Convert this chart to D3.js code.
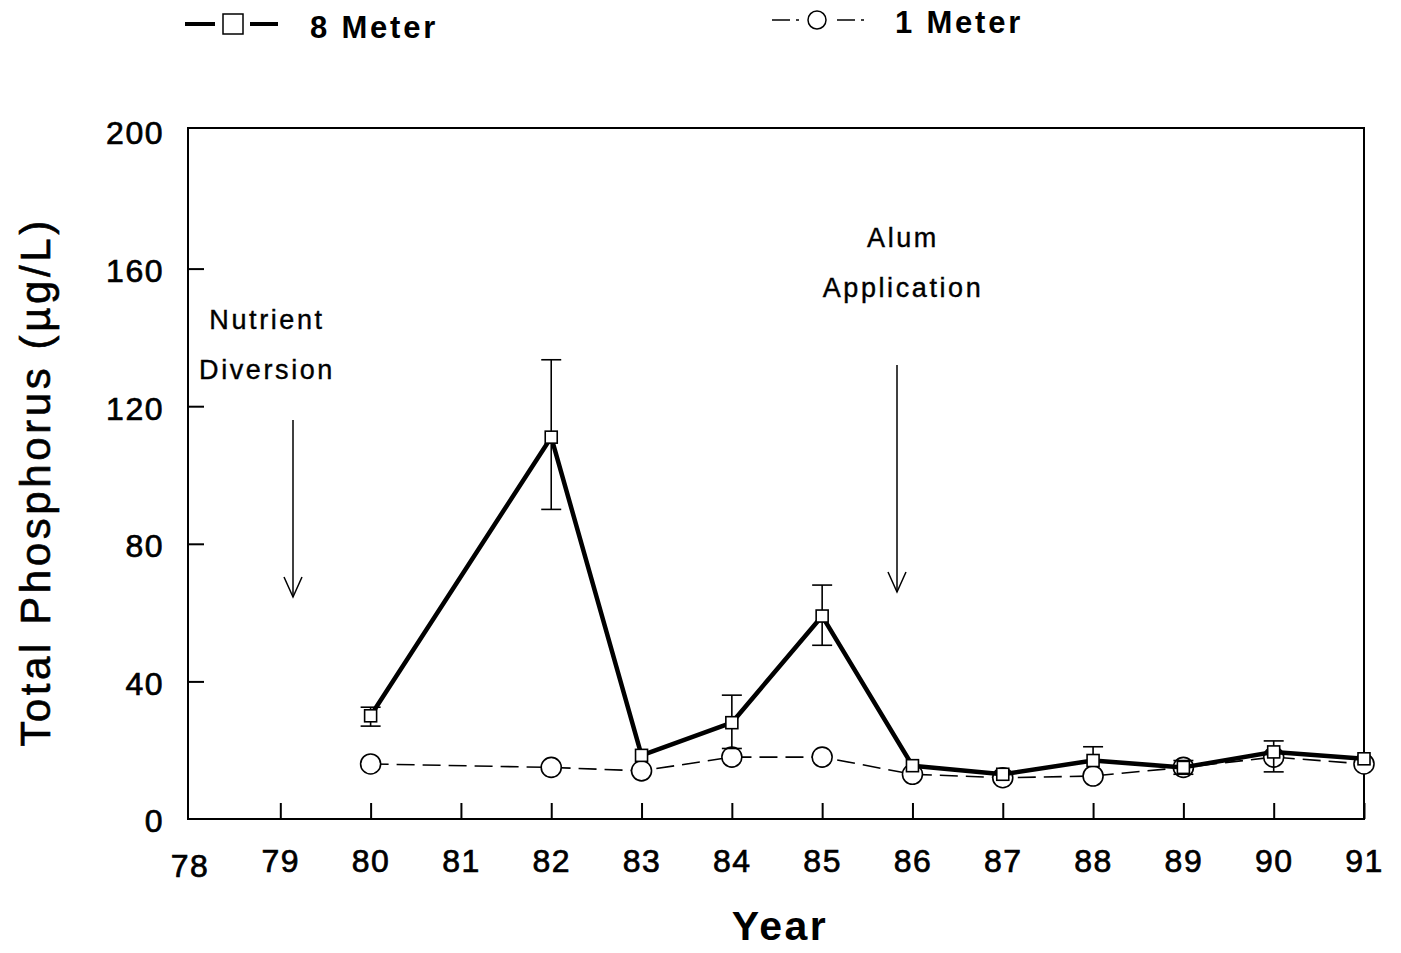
<!DOCTYPE html>
<html>
<head>
<meta charset="utf-8">
<style>
  body { margin: 0; background: #fff; }
  svg { font-family: "Liberation Sans", Arial, sans-serif; }
  .axis path, .axis line { stroke: #000; stroke-width: 2px; }
  .axis text { font-size: 32px; fill: #000; letter-spacing: 1.5px; stroke: #000; stroke-width: 0.7px; }
</style>
<script src="https://d3js.org/d3.v7.min.js"></script>
</head>
<body>
<script>
// years on the x axis
var years = [78, 79, 80, 81, 82, 83, 84, 85, 86, 87, 88, 89, 90, 91];
var yTicks = [0, 40, 80, 120, 160, 200];

// 8 meter: year, mean, lower and upper error bar (null = none)
var deepYears = [80, 82, 83, 84, 85, 86, 87, 88, 89, 90, 91];
var deepValues = [30, 111, 18.5, 28, 59, 15.5, 13, 17, 15, 19.5, 17.5];
var deepLow  = [27, 90, null, 20.5, 50.5, null, null, null, 13, 13.7, null];
var deepHigh = [32.5, 133.5, null, 36, 68, null, null, 21, 17, 22.7, null];

// 1 meter
var shallowYears = [80, 82, 83, 84, 85, 86, 87, 88, 89, 90, 91];
var shallowValues = [16, 15, 14, 18, 18, 13, 12, 12.5, 15, 18, 16];

var width = 1401, height = 953;
var svg = d3.select("body").append("svg")
    .attr("width", width).attr("height", height);

var x = d3.scaleLinear().domain([78, 91]).range([190, 1364]);
var y = d3.scaleLinear().domain([0, 200]).range([819, 131]);

// frame
svg.append("rect")
    .attr("x", 188).attr("y", y(200) - 3)
    .attr("width", 1364 - 188).attr("height", y(0) - y(200) + 3)
    .attr("fill", "none").attr("stroke", "#000").attr("stroke-width", 2);

var xAxis = d3.axisBottom(x).tickValues(years.slice(1))
    .tickSize(-16).tickPadding(30).tickFormat(d3.format("d"));
svg.append("g").attr("class", "axis")
    .attr("transform", "translate(0," + y(0) + ")")
    .call(xAxis)
    .call(function(g) { g.select(".domain").remove(); });
// 78 label at axis corner
svg.append("text").attr("x", x(78)).attr("y", y(0) + 58)
    .attr("text-anchor", "middle").attr("font-size", 32)
    .attr("letter-spacing", 1.5).attr("stroke", "#000").attr("stroke-width", 0.7)
    .text("78");

var yAxis = d3.axisLeft(y).tickValues(yTicks)
    .tickSize(-16).tickPadding(24);
svg.append("g").attr("class", "axis")
    .attr("transform", "translate(188,0)")
    .call(yAxis)
    .call(function(g) {
        g.select(".domain").remove();
        g.selectAll(".tick line").filter(function(d) { return d === 0 || d === 200; }).remove();
        g.selectAll("text").attr("dy", "0.4em");
    });

// axis titles
svg.append("text").attr("x", 780).attr("y", 940)
    .attr("text-anchor", "middle").attr("font-size", 41).attr("font-weight", "bold")
    .attr("letter-spacing", 2.5).text("Year");
svg.append("text")
    .attr("transform", "translate(50,482) rotate(-90)")
    .attr("text-anchor", "middle").attr("font-size", 42).attr("letter-spacing", 3.6)
    .attr("stroke", "#000").attr("stroke-width", 0.6)
    .text("Total Phosphorus (\u00b5g/L)");

// annotations
function note(lines, cx, cy, ax, ay1, ay2) {
    lines.forEach(function(t, i) {
        svg.append("text").attr("x", cx).attr("y", cy + i * 50)
            .attr("text-anchor", "middle").attr("font-size", 27)
            .attr("letter-spacing", 2.6).attr("stroke", "#000").attr("stroke-width", 0.4)
            .text(t);
    });
    svg.append("line").attr("x1", ax).attr("x2", ax).attr("y1", ay1).attr("y2", ay2)
        .attr("stroke", "#000").attr("stroke-width", 1.5);
    svg.append("path")
        .attr("d", "M" + (ax - 9) + "," + (ay2 - 20) + "L" + ax + "," + ay2 + "L" + (ax + 9) + "," + (ay2 - 20))
        .attr("fill", "none").attr("stroke", "#000").attr("stroke-width", 1.5);
}
note(["Nutrient", "Diversion"], 267, 329, 293, 420, 597);
note(["Alum", "Application"], 903, 247, 897, 365, 592);

var shallow = shallowYears.map(function(d, i) { return { yr: d, v: shallowValues[i] }; });
var deep = deepYears.map(function(d, i) {
    return { yr: d, v: deepValues[i], lo: deepLow[i], hi: deepHigh[i] };
});

var line = d3.line().x(function(d) { return x(d.yr); }).y(function(d) { return y(d.v); });

// 1 meter series
svg.append("path").datum(shallow).attr("d", line)
    .attr("fill", "none").attr("stroke", "#000").attr("stroke-width", 1.6)
    .attr("stroke-dasharray", "18,8");
svg.selectAll(".circ").data(shallow).enter().append("circle")
    .attr("cx", function(d) { return x(d.yr); })
    .attr("cy", function(d) { return y(d.v); })
    .attr("r", 10).attr("fill", "#fff").attr("stroke", "#000").attr("stroke-width", 1.6);

// error bars for 8 meter
var eb = svg.append("g").attr("stroke", "#000").attr("stroke-width", 1.6);
deep.forEach(function(d) {
    [d.lo, d.hi].forEach(function(e) {
        if (e === null) return;
        eb.append("line").attr("x1", x(d.yr)).attr("x2", x(d.yr))
            .attr("y1", y(d.v)).attr("y2", y(e));
        eb.append("line").attr("x1", x(d.yr) - 10).attr("x2", x(d.yr) + 10)
            .attr("y1", y(e)).attr("y2", y(e));
    });
});

// 8 meter series
svg.append("path").datum(deep).attr("d", line)
    .attr("fill", "none").attr("stroke", "#000").attr("stroke-width", 4.5)
    .attr("stroke-linejoin", "round");
svg.selectAll(".sq").data(deep).enter().append("rect")
    .attr("x", function(d) { return x(d.yr) - 6; })
    .attr("y", function(d) { return y(d.v) - 6; })
    .attr("width", 12).attr("height", 12)
    .attr("fill", "#fff").attr("stroke", "#000").attr("stroke-width", 1.6);

// legend
var lg = svg.append("g");
lg.append("line").attr("x1", 185).attr("x2", 215).attr("y1", 24).attr("y2", 24)
    .attr("stroke", "#000").attr("stroke-width", 4);
lg.append("line").attr("x1", 250).attr("x2", 278).attr("y1", 24).attr("y2", 24)
    .attr("stroke", "#000").attr("stroke-width", 4);
lg.append("rect").attr("x", 223).attr("y", 14).attr("width", 20).attr("height", 20)
    .attr("fill", "#fff").attr("stroke", "#000").attr("stroke-width", 1.5);
lg.append("text").attr("x", 310).attr("y", 38).attr("font-size", 31)
    .attr("font-weight", "bold").attr("letter-spacing", 2.8).text("8 Meter");

lg.append("line").attr("x1", 772).attr("x2", 790).attr("y1", 20).attr("y2", 20)
    .attr("stroke", "#000").attr("stroke-width", 1.5);
lg.append("line").attr("x1", 796).attr("x2", 799).attr("y1", 20).attr("y2", 20)
    .attr("stroke", "#000").attr("stroke-width", 1.5);
lg.append("circle").attr("cx", 817).attr("cy", 20).attr("r", 9)
    .attr("fill", "#fff").attr("stroke", "#000").attr("stroke-width", 1.5);
lg.append("line").attr("x1", 837).attr("x2", 855).attr("y1", 20).attr("y2", 20)
    .attr("stroke", "#000").attr("stroke-width", 1.5);
lg.append("line").attr("x1", 861).attr("x2", 864).attr("y1", 20).attr("y2", 20)
    .attr("stroke", "#000").attr("stroke-width", 1.5);
lg.append("text").attr("x", 895).attr("y", 33).attr("font-size", 31)
    .attr("font-weight", "bold").attr("letter-spacing", 2.8).text("1 Meter");
</script>
</body>
</html>
